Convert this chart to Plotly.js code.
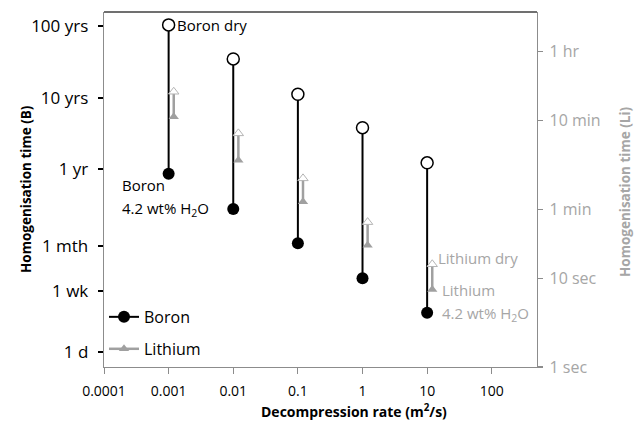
<!DOCTYPE html>
<html>
<head>
<meta charset="utf-8">
<script src="https://cdn.plot.ly/plotly-3.0.1.min.js"></script>
<style>html,body{margin:0;padding:0;background:#fff;}#chart{width:640px;height:423px;}</style>
</head>
<body>
<div id="chart"></div>
<script>
// Decompression rates (m²/s)
const rates = [0.001, 0.01, 0.1, 1, 10];
// Boron homogenisation time, years
const boronDryYears = [105, 35, 11.2, 3.8, 1.22];
const boronWetYears = [0.86, 0.275, 0.091, 0.0293, 0.00966];
// Lithium points drawn slightly offset in x
const liRates = [0.0012, 0.012, 0.12, 1.2, 12];
// Lithium homogenisation time, seconds
const liDrySec = [1270, 431, 134, 43, 14.4];
const liWetSec = [663, 215, 73, 23.6, 7.5];
// Tick labels
const xTickVals = [0.0001, 0.001, 0.01, 0.1, 1, 10, 100];
const xTickText = ['0.0001', '0.001', '0.01', '0.1', '1', '10', '100'];
const leftTickVals = [1/365, 7/365.25, 1/12, 1, 10, 100];
const leftTickText = ['1 d', '1 wk', '1 mth', '1 yr', '10 yrs', '100 yrs'];
const rightTickVals = [1, 10, 60, 600, 3600];
const rightTickText = ['1 sec', '10 sec', '1 min', '10 min', '1 hr'];

const FONT = 'Open Sans, Noto Sans, sans-serif';
const LI_GRAY = '#a0a0a0';
const AX_GRAY = '#8c8c8c';
const RT_GRAY = '#a6a6a6';

function segs(xs, a, b) {
  const X = [], Y = [];
  xs.forEach((x, i) => { X.push(x, x, null); Y.push(a[i], b[i], null); });
  return {X, Y};
}
function gapped(xs, ys) {
  const X = [], Y = [];
  xs.forEach((x, i) => { X.push(x, null); Y.push(ys[i], null); });
  return {X, Y};
}

const bs = segs(rates, boronDryYears, boronWetYears);
const ls = segs(liRates, liWetSec, liDrySec);
const bw = gapped(rates, boronWetYears);
const lw = gapped(liRates, liWetSec);

const traces = [
  {x: ls.X, y: ls.Y, yaxis: 'y2', mode: 'lines', line: {color: LI_GRAY, width: 2.5}, showlegend: false, hoverinfo: 'skip'},
  {x: lw.X, y: lw.Y, yaxis: 'y2', mode: 'lines+markers', name: 'Lithium', legend: 'legend2',
   line: {color: LI_GRAY, width: 2.5}, marker: {symbol: 'triangle-up', size: 9, color: LI_GRAY}, connectgaps: false},
  {x: liRates, y: liDrySec, yaxis: 'y2', mode: 'markers', showlegend: false,
   marker: {symbol: 'triangle-up', size: 9, color: 'white', line: {color: '#b4b4b4', width: 1}}},
  {x: bs.X, y: bs.Y, mode: 'lines', line: {color: 'black', width: 2}, showlegend: false, hoverinfo: 'skip'},
  {x: bw.X, y: bw.Y, mode: 'lines+markers', name: 'Boron', legend: 'legend',
   line: {color: 'black', width: 2}, marker: {symbol: 'circle', size: 12, color: 'black'}, connectgaps: false},
  {x: rates, y: boronDryYears, mode: 'markers', showlegend: false,
   marker: {symbol: 'circle', size: 12, color: 'white', line: {color: 'black', width: 1.5}}}
];

const yRange = [-2.777, 2.202];
const y2Range = [0, 4.003];

const layout = {
  width: 640, height: 423,
  margin: {l: 104, r: 103, t: 12, b: 56},
  paper_bgcolor: 'white', plot_bgcolor: 'white',
  font: {family: FONT, size: 14, color: 'black'},
  showlegend: true,
  xaxis: {
    type: 'log', range: [-4, 2.7], tickvals: xTickVals, ticktext: xTickText,
    ticks: 'outside', ticklen: 6, tickcolor: AX_GRAY, showline: true, linecolor: AX_GRAY, linewidth: 1.3,
    ticklabelstandoff: 5,
    showgrid: false, zeroline: false, automargin: false, tickfont: {size: 14, color: 'black'}
  },
  yaxis: {
    type: 'log', range: yRange, tickvals: leftTickVals, ticktext: leftTickText,
    ticks: 'outside', ticklen: 5, tickcolor: 'black', tickwidth: 2, showline: true, linecolor: AX_GRAY, linewidth: 1.3,
    ticklabelstandoff: 6,
    showgrid: false, zeroline: false, automargin: false, tickfont: {size: 17, color: 'black'}
  },
  yaxis2: {
    type: 'log', range: y2Range, overlaying: 'y', side: 'right', tickvals: rightTickVals, ticktext: rightTickText,
    ticks: 'outside', ticklen: 5, tickcolor: AX_GRAY, tickwidth: 1.5, showline: true, linecolor: AX_GRAY, linewidth: 1.3,
    ticklabelstandoff: 3,
    showgrid: false, zeroline: false, automargin: false, tickfont: {size: 16, color: RT_GRAY}
  },
  yaxis3: {
    type: 'log', range: yRange, overlaying: 'y', side: 'left', tickvals: leftTickVals,
    ticks: 'inside', ticklen: 5, tickcolor: 'black', tickwidth: 2, showticklabels: false, showline: false,
    showgrid: false, zeroline: false, automargin: false
  },
  yaxis4: {
    type: 'log', range: y2Range, overlaying: 'y', side: 'right', tickvals: rightTickVals,
    ticks: 'inside', ticklen: 5, tickcolor: AX_GRAY, tickwidth: 1.5, showticklabels: false, showline: false,
    showgrid: false, zeroline: false, automargin: false
  },
  legend: {x: 0, xanchor: 'left', y: 0.141, yanchor: 'middle', bgcolor: 'rgba(0,0,0,0)',
           font: {size: 16, color: 'black'}, tracegroupgap: 0},
  legend2: {x: 0, xanchor: 'left', y: 0.051, yanchor: 'middle', bgcolor: 'rgba(0,0,0,0)',
            font: {size: 16, color: 'black'}, tracegroupgap: 0},
  shapes: [
    {type: 'line', xref: 'paper', yref: 'paper', x0: 0, x1: 1, y0: 1, y1: 1, line: {color: '#404040', width: 1.3}}
  ],
  annotations: [
    {text: 'Decompression rate (m<sup>2</sup>/s)', xref: 'paper', yref: 'paper', x: 0.577, y: -0.123,
     xanchor: 'center', yanchor: 'middle', showarrow: false, font: {size: 14, color: 'black', weight: 'bold'}},
    {text: 'Homogenisation time (B)', xref: 'paper', yref: 'paper', x: (26 - 104) / 433, y: 1 - (189 - 12) / 355,
     xanchor: 'center', yanchor: 'middle', textangle: -90, showarrow: false, font: {size: 13.5, color: 'black', weight: 'bold'}},
    {text: 'Homogenisation time (Li)', xref: 'paper', yref: 'paper', x: (625 - 104) / 433, y: 1 - (192 - 12) / 355,
     xanchor: 'center', yanchor: 'middle', textangle: -90, showarrow: false, font: {size: 13.5, color: RT_GRAY, weight: 'bold'}},
    {text: 'Boron dry', xref: 'paper', yref: 'paper', x: 0.164, y: 0.963, xanchor: 'left', yanchor: 'middle',
     showarrow: false, font: {size: 15, color: 'black'}},
    {text: 'Boron', xref: 'paper', yref: 'paper', x: 0.037, y: 1 - (185 - 12) / 355, xanchor: 'left', yanchor: 'middle',
     showarrow: false, font: {size: 15, color: 'black'}},
    {text: '4.2 wt% H<sub>2</sub>O', xref: 'paper', yref: 'paper', x: 0.037, y: 1 - (209 - 12) / 355, xanchor: 'left', yanchor: 'middle',
     showarrow: false, font: {size: 15, color: 'black'}},
    {text: 'Lithium dry', xref: 'paper', yref: 'paper', x: (436 - 104) / 433, y: 1 - (258 - 12) / 355, xanchor: 'left', yanchor: 'middle',
     showarrow: false, font: {size: 15, color: RT_GRAY}},
    {text: 'Lithium', xref: 'paper', yref: 'paper', x: (440 - 104) / 433, y: 1 - (290 - 12) / 355, xanchor: 'left', yanchor: 'middle',
     showarrow: false, font: {size: 15, color: RT_GRAY}},
    {text: '4.2 wt% H<sub>2</sub>O', xref: 'paper', yref: 'paper', x: (440 - 104) / 433, y: 1 - (314 - 12) / 355, xanchor: 'left', yanchor: 'middle',
     showarrow: false, font: {size: 15, color: RT_GRAY}}
  ]
};

Plotly.newPlot('chart', traces, layout, {displayModeBar: false, staticPlot: true});
</script>
</body>
</html>
